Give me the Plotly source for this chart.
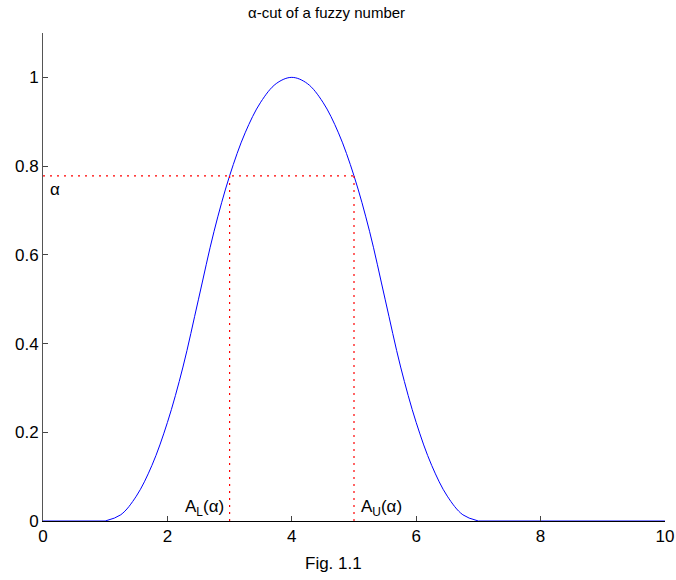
import plotly.graph_objects as go

# membership curve values
curve_x = [1.0, 1.25, 1.5, 1.75, 2.0, 2.25, 2.5, 2.75, 3.0, 3.25, 3.5, 3.75, 4.0,
           4.25, 4.5, 4.75, 5.0, 5.25, 5.5, 5.75, 6.0, 6.25, 6.5, 6.75, 7.0]
curve_y = [0, 0.014, 0.056, 0.125, 0.222, 0.347, 0.5, 0.653, 0.778, 0.875, 0.944, 0.986, 1.0,
           0.986, 0.944, 0.875, 0.778, 0.653, 0.5, 0.347, 0.222, 0.125, 0.056, 0.014, 0]
flat_left_x = [0, 1.0]
flat_right_x = [7.0, 10]
flat_y = [0, 0]

alpha = 0.778
a_lower = 3.0
a_upper = 5.0

x_ticks = [0, 2, 4, 6, 8, 10]
y_ticks = [0, 0.2, 0.4, 0.6, 0.8, 1]
y_tick_labels = ["0", "0.2", "0.4", "0.6", "0.8", "1"]

FONT = "Liberation Sans, Arial, Helvetica, sans-serif"
W, H = 676, 580
ML, MR, MT, MB = 43, 11, 33, 59

fig = go.Figure()
blue = dict(color="#0000ff", width=1)
fig.add_trace(go.Scatter(x=flat_left_x, y=flat_y, mode="lines", line=blue,
                         showlegend=False, hoverinfo="skip"))
fig.add_trace(go.Scatter(x=curve_x, y=curve_y, mode="lines",
                         line=dict(color="#0000ff", width=1, shape="spline", smoothing=1.0),
                         showlegend=False, hoverinfo="skip"))
fig.add_trace(go.Scatter(x=flat_right_x, y=flat_y, mode="lines", line=blue,
                         showlegend=False, hoverinfo="skip"))

dot = dict(color="#ff0000", width=1.2, dash="2px,5px")
fig.add_trace(go.Scatter(x=[0, a_upper], y=[alpha, alpha], mode="lines", line=dot,
                         showlegend=False, hoverinfo="skip"))
fig.add_trace(go.Scatter(x=[a_lower, a_lower], y=[0, alpha], mode="lines", line=dot,
                         showlegend=False, hoverinfo="skip"))
fig.add_trace(go.Scatter(x=[a_upper, a_upper], y=[0, alpha], mode="lines", line=dot,
                         showlegend=False, hoverinfo="skip"))

fig.add_annotation(x=0.08, y=alpha - 0.005, text="α", showarrow=False,
                   xanchor="left", yanchor="top", font=dict(family=FONT, size=17, color="black"))
fig.add_annotation(x=a_lower - 0.06, y=0.0, text="A<sub>L</sub>(α)", showarrow=False,
                   xanchor="right", yanchor="bottom", font=dict(family=FONT, size=17, color="black"))
fig.add_annotation(x=a_upper + 0.08, y=0.0, text="A<sub>U</sub>(α)", showarrow=False,
                   xanchor="left", yanchor="bottom", font=dict(family=FONT, size=17, color="black"))

# title and x label placed as in the reference
fig.add_annotation(xref="paper", yref="paper",
                   x=(326 - ML) / (W - ML - MR), y=1 + (MT - 12) / (H - MT - MB),
                   text="α-cut of a fuzzy number", showarrow=False,
                   xanchor="center", yanchor="middle", font=dict(family=FONT, size=15, color="black"))
fig.add_annotation(xref="paper", yref="paper",
                   x=(333 - ML) / (W - ML - MR), y=-(563 - (H - MB)) / (H - MT - MB),
                   text="Fig. 1.1", showarrow=False,
                   xanchor="center", yanchor="middle", font=dict(family=FONT, size=17, color="black"))

fig.update_layout(
    width=W, height=H,
    margin=dict(l=ML, r=MR, t=MT, b=MB, autoexpand=False),
    paper_bgcolor="white", plot_bgcolor="white",
    font=dict(family=FONT, size=17, color="black"),
    xaxis=dict(range=[0, 10], tickvals=x_ticks, ticks="inside", ticklen=5,
               showgrid=False, zeroline=False, showline=True, linecolor="black",
               linewidth=1, tickcolor="#444", mirror=False, automargin=False,
               ticklabeloverflow="allow",
               tickfont=dict(family=FONT, size=17)),
    yaxis=dict(range=[0, 1.1], tickvals=y_ticks, ticktext=y_tick_labels, ticks="inside",
               ticklen=5, showgrid=False, zeroline=False, showline=True,
               linecolor="#555", linewidth=1, tickcolor="#444", mirror=False,
               automargin=False, tickfont=dict(family=FONT, size=17)),
)

fig.write_html("out.html")
